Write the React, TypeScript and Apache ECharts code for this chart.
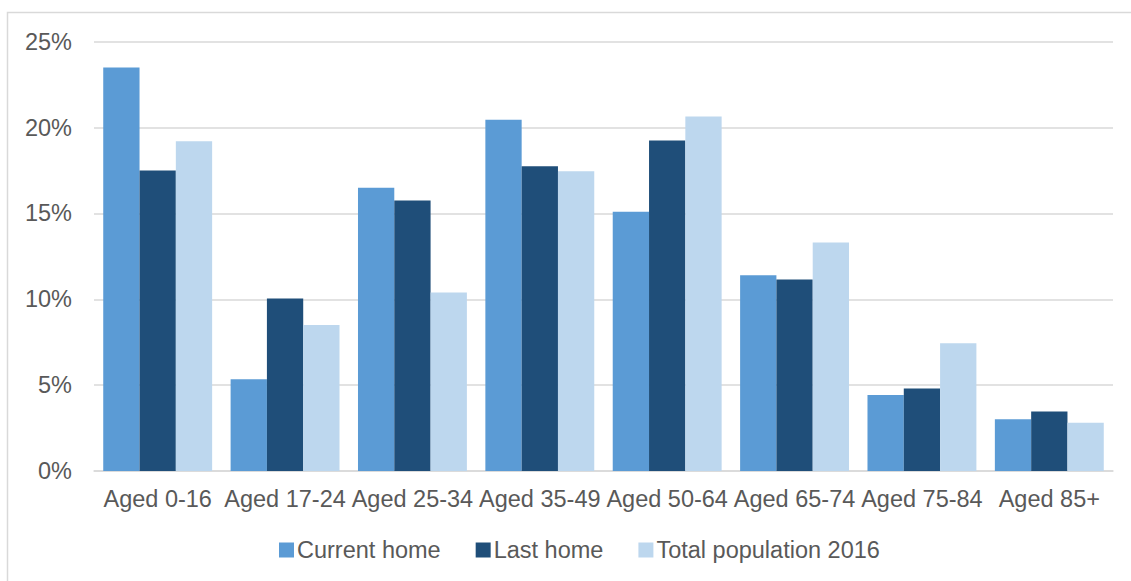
import React, { useEffect, useRef } from "react";
import * as echarts from "echarts";

const categories = [
  "Aged 0-16",
  "Aged 17-24",
  "Aged 25-34",
  "Aged 35-49",
  "Aged 50-64",
  "Aged 65-74",
  "Aged 75-84",
  "Aged 85+",
];
const currentHome = [23.5, 5.35, 16.5, 20.45, 15.1, 11.4, 4.42, 3.02];
const lastHome = [17.5, 10.05, 15.75, 17.75, 19.25, 11.15, 4.81, 3.47];
const totalPopulation = [19.2, 8.5, 10.4, 17.45, 20.65, 13.3, 7.44, 2.81];
const seriesNames = ["Current home", "Last home", "Total population 2016"];
const colors = ["#5B9BD5", "#1F4E79", "#BDD7EE"];

const FONT = "'Liberation Sans', Arial, sans-serif";
const TEXT = "#595959";
const FS = 23.5;

export default function App() {
  const ref = useRef<HTMLDivElement>(null);
  useEffect(() => {
    if (!ref.current) return;
    const chart = echarts.init(ref.current, null, { renderer: "svg" });
    const data = [currentHome, lastHome, totalPopulation];
    chart.setOption({
      animation: false,
      backgroundColor: "#ffffff",
      textStyle: { fontFamily: FONT },
      grid: { left: 94, right: 18, top: 41.7, bottom: 110, containLabel: false },
      legend: {
        data: seriesNames,
        left: 274,
        top: 533,
        icon: "rect",
        itemWidth: 15,
        itemHeight: 15,
        itemGap: 35,
        textStyle: { fontFamily: FONT, fontSize: FS, color: TEXT, padding: [0, 0, 0, -2] },
      },
      xAxis: {
        type: "category",
        data: categories,
        axisLine: { show: true, lineStyle: { color: "#D9D9D9", width: 1.5 } },
        axisTick: { show: false },
        axisLabel: {
          interval: 0,
          margin: 16,
          fontFamily: FONT,
          fontSize: FS,
          color: TEXT,
        },
      },
      yAxis: {
        type: "value",
        min: 0,
        max: 25,
        interval: 5,
        axisLine: { show: false },
        axisTick: { show: false },
        splitLine: { lineStyle: { color: "#D9D9D9", width: 1.5 } },
        axisLabel: {
          formatter: "{value}%",
          margin: 22,
          fontFamily: FONT,
          fontSize: FS,
          color: TEXT,
        },
      },
      series: seriesNames.map((name, i) => ({
        name,
        type: "bar",
        data: data[i],
        barGap: "0%",
        barCategoryGap: "14.5%",
        itemStyle: { color: colors[i] },
      })),
      graphic: [
        {
          type: "polyline",
          shape: { points: [[7.5, 600], [7.5, 12.5], [1140, 12.5]] },
          style: { stroke: "#D9D9D9", lineWidth: 1.5, fill: "none" },
          silent: true,
        },
      ],
    });
    return () => chart.dispose();
  }, []);
  return (
    <div
      ref={ref}
      style={{ position: "fixed", left: 0, top: 0, width: 1131, height: 581 }}
    />
  );
}
